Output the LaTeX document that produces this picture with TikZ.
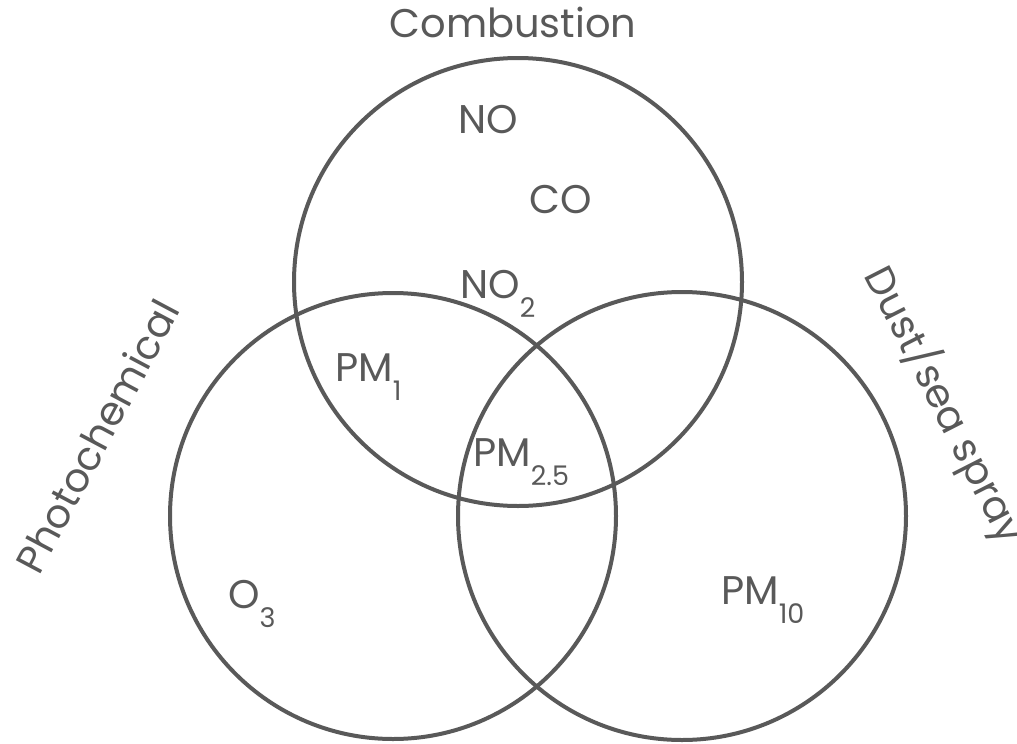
\documentclass[tikz,border=0pt]{standalone}
\usepackage{fontspec}
\setmainfont{Poppins}
\definecolor{ink}{HTML}{595959}
\newcommand\sbs[1]{\raisebox{-19pt}{\fontsize{27}{27}\selectfont #1}}
\begin{document}
\begin{tikzpicture}[x=1pt,y=-1pt,
  ring/.style={draw=ink,line width=4pt},
  lbl/.style={text=ink,font=\fontsize{40}{40}\selectfont,inner sep=0pt,anchor=base west}]
\useasboundingbox (0,0) rectangle (1017,744);
\draw[ring] (518,282) circle[radius=224];
\draw[ring] (393,516) circle[radius=223];
\draw[ring] (682,516) circle[radius=224];
\node[lbl,anchor=base] (comb) at (513,37) {Combustion};
\node[lbl] (no) at (458,133) {NO};
\node[lbl] (co) at (529,213) {CO};
\node[lbl] (no2) at (460,298) {NO\sbs{2}};
\node[lbl] (pm1) at (335,381) {PM\sbs{1}};
\node[lbl] (pm25) at (473,466) {PM\sbs{2.5}};
\node[lbl] (o3) at (228,608) {O\sbs{3}};
\node[lbl] (pm10) at (721,604) {PM\sbs{10}};
\node[lbl,anchor=center,rotate=62] (photo) at (97,436) {Photochemical};
\node[lbl,anchor=center,rotate=-63] (dust) at (945,405) {Dust/sea spray};
\end{tikzpicture}
\end{document}
